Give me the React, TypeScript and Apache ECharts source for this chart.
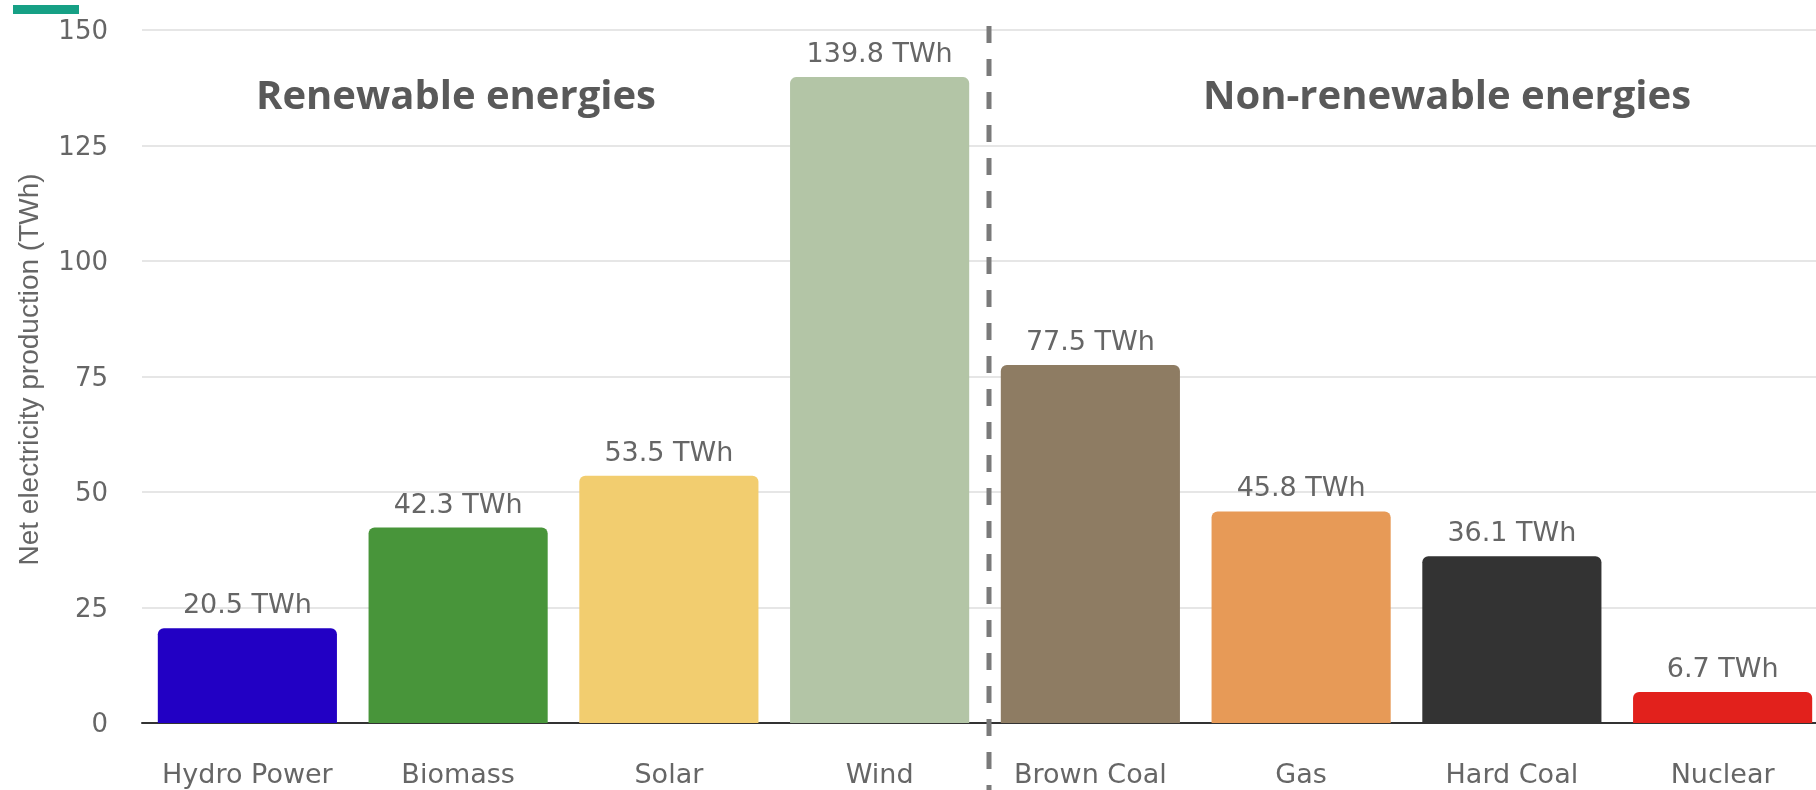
import React, { useEffect, useRef } from "react";
import * as echarts from "echarts";

const categories = ["Hydro Power", "Biomass", "Solar", "Wind", "Brown Coal", "Gas", "Hard Coal", "Nuclear"];
const values = [20.5, 42.3, 53.5, 139.8, 77.5, 45.8, 36.1, 6.7];
const barColors = ["#2200c4", "#48953a", "#f2cd6f", "#b3c5a6", "#8e7c63", "#e79a57", "#333333", "#e2211c"];
const groupTitles = ["Renewable energies", "Non-renewable energies"];
const yAxisTitle = "Net electricity production (TWh)";
const unit = "TWh";

export default function App() {
  const ref = useRef<HTMLDivElement>(null);
  useEffect(() => {
    if (!ref.current) return;
    const chart = echarts.init(ref.current, null, { renderer: "svg" });
    const option: any = {
      animation: false,
      grid: { left: 142, top: 30, right: 2, bottom: 67, containLabel: false },
      xAxis: {
        type: "category",
        data: categories,
        axisLine: { show: true, lineStyle: { color: "#333333", width: 2 } },
        axisTick: { show: false },
        axisLabel: {
          color: "#666666",
          fontFamily: "DejaVu Sans",
          fontSize: 27,
          margin: 37,
          interval: 0,
        },
      },
      yAxis: {
        type: "value",
        min: 0,
        max: 150,
        interval: 25,
        name: yAxisTitle,
        nameLocation: "middle",
        nameGap: 100,
        nameTextStyle: { color: "#666666", fontFamily: "Liberation Sans", fontSize: 28, padding: [0, 0, 0, 14] },
        axisLine: { show: false },
        axisTick: { show: false },
        axisLabel: { color: "#666666", fontFamily: "DejaVu Sans", fontSize: 26, margin: 34 },
        splitLine: { lineStyle: { color: "#e6e6e6", width: 2 } },
      },
      series: [
        {
          type: "bar",
          barWidth: "85%",
          data: values.map((v, i) => ({ value: v, itemStyle: { color: barColors[i], borderRadius: [6, 6, 0, 0] } })),
          label: {
            show: true,
            position: "top",
            distance: 11,
            color: "#666666",
            fontFamily: "DejaVu Sans",
            fontSize: 27,
            formatter: (p: any) => `${p.value} ${unit}`,
          },
        },
      ],
    };
    chart.setOption(option);
    const x1 = chart.convertToPixel({ xAxisIndex: 0 }, categories[3]) as number;
    const x2 = chart.convertToPixel({ xAxisIndex: 0 }, categories[4]) as number;
    const divX = (x1 + x2) / 2 + 4;
    chart.setOption({
      graphic: [
        { type: "rect", left: 13, top: 5, shape: { width: 66, height: 9 }, style: { fill: "#16a085" } },
        {
          type: "line",
          shape: { x1: divX, y1: 26, x2: divX, y2: 790 },
          style: { stroke: "#7a7a7a", lineWidth: 5, lineDash: [17, 16] },
          z: 10,
        },
        {
          type: "text",
          x: 456,
          y: 93,
          style: {
            text: groupTitles[0],
            fill: "#595959",
            font: "bold 40px 'Open Sans'",
            textAlign: "center",
            textVerticalAlign: "middle",
          },
        },
        {
          type: "text",
          x: 1447,
          y: 93,
          style: {
            text: groupTitles[1],
            fill: "#595959",
            font: "bold 40px 'Open Sans'",
            textAlign: "center",
            textVerticalAlign: "middle",
          },
        },
      ],
    });
    return () => chart.dispose();
  }, []);
  return (
    <div style={{ position: "fixed", left: 0, top: 0, width: 1816, height: 790, overflow: "hidden" }}>
      <div ref={ref} style={{ width: 1830, height: 790 }} />
    </div>
  );
}
